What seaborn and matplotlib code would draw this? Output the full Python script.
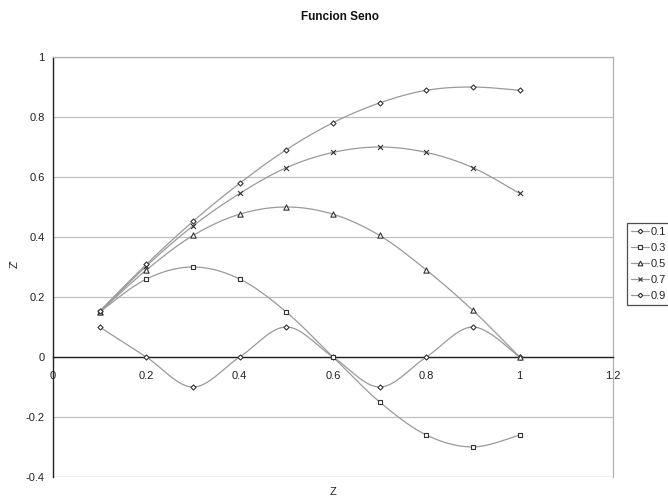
import numpy as np
import pandas as pd
import matplotlib
matplotlib.use("Agg")
import matplotlib.pyplot as plt
from matplotlib.lines import Line2D
from matplotlib.ticker import FuncFormatter, MultipleLocator
import seaborn as sns

# ---- data ----
z = [0.1, 0.2, 0.3, 0.4, 0.5, 0.6, 0.7, 0.8, 0.9, 1.0]
series_names = ["0.1", "0.3", "0.5", "0.7", "0.9"]
s01 = [0.10, 0.0, -0.10, 0.0, 0.10, 0.0, -0.10, 0.0, 0.10, 0.0]
s03 = [0.15, 0.26, 0.30, 0.26, 0.15, 0.0, -0.15, -0.26, -0.30, -0.26]
s05 = [0.15, 0.29, 0.405, 0.476, 0.50, 0.476, 0.405, 0.29, 0.155, 0.0]
s07 = [0.15, 0.303, 0.437, 0.545, 0.631, 0.682, 0.70, 0.682, 0.631, 0.545]
s09 = [0.153, 0.309, 0.452, 0.579, 0.691, 0.781, 0.847, 0.889, 0.90, 0.889]
markers = ["D", "s", "^", "x", "D"]
marker_sizes = [2.6, 3.2, 3.8, 3.6, 2.6]

sns.set_theme(style="white")
plt.rcParams['font.family'] = ['Liberation Sans', 'DejaVu Sans']

fig = plt.figure(figsize=(6.68, 5.04), dpi=100)
ax = fig.add_axes([53/668, 1-477/504, (613-53)/668, (477-57)/504])


def smooth(xs, ys, n=20):
    """Excel-style smoothed line (Catmull-Rom Bezier) through the data points."""
    xs = np.asarray(xs, float); ys = np.asarray(ys, float)
    P = np.column_stack([xs, ys])
    P = np.vstack([P[0], P, P[-1]])
    out = []
    t = np.linspace(0, 1, n)[:, None]
    for i in range(1, len(P) - 2):
        p0, p1, p2, p3 = P[i-1], P[i], P[i+1], P[i+2]
        c1 = p1 + (p2 - p0) / 6.0
        c2 = p2 - (p3 - p1) / 6.0
        seg = ((1-t)**3)*p1 + 3*((1-t)**2)*t*c1 + 3*(1-t)*t**2*c2 + t**3*p2
        out.append(seg if i == 1 else seg[1:])
    out = np.vstack(out)
    return out[:, 0], out[:, 1]

all_series = [s01, s03, s05, s07, s09]
handles = []
for name, ys, mk, ms in zip(series_names, all_series, markers, marker_sizes):
    sx, sy = smooth(z, ys)
    sns.lineplot(x=sx, y=sy, sort=False, estimator=None, ax=ax,
                 color="#9a9a9a", linewidth=0.9, zorder=3)
    df = pd.DataFrame({"z": z, "v": ys})
    if mk == "x":
        sns.scatterplot(data=df, x="z", y="v", marker="x", s=ms**2, ax=ax,
                        color="#333333", linewidth=0.8, zorder=4)
    else:
        sns.scatterplot(data=df, x="z", y="v", marker=mk, s=ms**2, ax=ax,
                        facecolor="white", edgecolor="#333333", linewidth=0.8, zorder=4)
    handles.append(Line2D([0], [0], color="#9a9a9a", lw=0.9, marker=mk,
                          markersize=ms * 0.9, markerfacecolor="white",
                          markeredgecolor="#333333", markeredgewidth=0.8, label=name))

ax.set_xlim(0, 1.2)
ax.set_ylim(-0.4, 1.0)
ax.xaxis.set_major_locator(MultipleLocator(0.2))
ax.yaxis.set_major_locator(MultipleLocator(0.2))
fmt = FuncFormatter(lambda v, p: ("%g" % round(v, 2)))
ax.xaxis.set_major_formatter(fmt)
ax.yaxis.set_major_formatter(fmt)

ax.grid(axis="y", color="#c0c0c0", linewidth=0.9)
ax.grid(axis="x", visible=False)
ax.set_axisbelow(True)

ax.spines["bottom"].set_position(("data", 0))
ax.spines["bottom"].set_color("#222222")
ax.spines["bottom"].set_linewidth(1.0)
ax.spines["left"].set_color("#222222")
ax.spines["left"].set_linewidth(1.0)
for s in ("top", "right"):
    ax.spines[s].set_color("#b0b0b0")
    ax.spines[s].set_linewidth(0.9)
ax.axhline(-0.4, color="#b0b0b0", linewidth=0.9, zorder=1)

ax.tick_params(axis="both", labelsize=8, colors="#222222", length=3, width=0.8,
               direction="out", labelcolor="#222222", pad=3)
ax.tick_params(axis="x", length=0, pad=10)

ax.set_xlabel("")
ax.set_ylabel("")
fig.text(333/668, 1-492/504, "Z", ha="center", va="center", fontsize=8, color="#222222")
fig.text(15/668, 1-264/504, "Z'", ha="center", va="center", rotation=90, fontsize=8, color="#222222")
fig.text(340/668, 1-17/504, "Funcion Seno", ha="center", va="center", fontsize=8.5,
         fontweight="bold", color="#111111")

leg = fig.legend(handles=handles, loc="upper left", bbox_to_anchor=(627/668, 1-223/504),
                 frameon=True, fancybox=False, fontsize=8, handlelength=1.6,
                 handletextpad=0.15, labelspacing=0.55, borderpad=0.35, borderaxespad=0)
leg.get_frame().set_edgecolor("#222222")
leg.get_frame().set_linewidth(0.9)

fig.savefig("out.png", dpi=100)
